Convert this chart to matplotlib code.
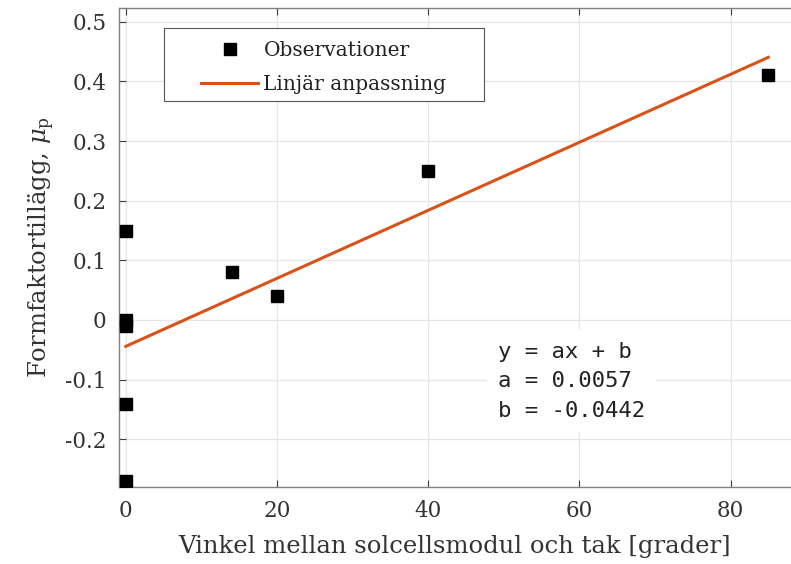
import numpy as np
import matplotlib.pyplot as plt
from matplotlib.patches import Rectangle

# Observations: angle between module and roof [deg] vs form factor addition
angle = [0, 0, 0, 0, 0, 14, 20, 40, 85]
form_factor = [0.15, 0.0, -0.01, -0.14, -0.27, 0.08, 0.04, 0.25, 0.41]

# Linear fit parameters
slope = 0.0057
intercept = -0.0442
fit_range = [0, 85]

x_ticks = [0, 20, 40, 60, 80]
y_ticks = [-0.2, -0.1, 0, 0.1, 0.2, 0.3, 0.4, 0.5]
y_tick_labels = ['-0.2', '-0.1', '0', '0.1', '0.2', '0.3', '0.4', '0.5']

plt.rcParams['font.family'] = ['DejaVu Serif']
plt.rcParams['mathtext.fontset'] = 'dejavuserif'

fig = plt.figure(figsize=(7.91, 5.64), dpi=100)
ax = fig.add_axes([0.1504, 0.1365, 0.8496, 0.8493])

ax.plot(angle, form_factor, 's', color='black', markersize=9,
        label='Observationer', zorder=3)
x_fit = np.array(fit_range)
ax.plot(x_fit, slope * x_fit + intercept, '-', color='#D95319', linewidth=2.2,
        label='Linjär anpassning', zorder=2)

ax.set_xlim(-0.9, 88)
ax.set_ylim(-0.28, 0.523)
ax.set_xticks(x_ticks)
ax.set_yticks(y_ticks)
ax.set_yticklabels(y_tick_labels)
ax.tick_params(direction='in', top=True, right=False, length=5, width=0.8,
               colors='#404040', labelsize=15.5, labelcolor='#333333', pad=9)
ax.grid(True, color='#e6e6e6', linewidth=0.9)
ax.set_axisbelow(True)
for side in ['left', 'bottom', 'top']:
    ax.spines[side].set_color('#808080')
    ax.spines[side].set_linewidth(1.0)
ax.spines['right'].set_visible(False)

ax.set_xlabel('Vinkel mellan solcellsmodul och tak [grader]', fontsize=17.5,
              color='#333333', labelpad=10)
ax.set_ylabel(r'Formfaktortillägg, $\mu_\mathrm{p}$', fontsize=17.5,
              color='#333333', labelpad=6)

# legend without frame, frame drawn with wider side margins (MATLAB style)
leg = ax.legend(loc='upper left', bbox_to_anchor=(0.122, 0.931), fontsize=14.5,
                frameon=False, borderpad=0, borderaxespad=0,
                handlelength=2.85, labelspacing=0.75, handletextpad=0.25)
for t in leg.get_texts():
    t.set_color('#222222')

fig.canvas.draw()
bb = leg.get_window_extent()
pad_l, pad_r, pad_top, pad_bot = 37, 38, 13, 7
x0, y0 = fig.transFigure.inverted().transform((bb.x0 - pad_l, bb.y0 - pad_bot))
x1, y1 = fig.transFigure.inverted().transform((bb.x1 + pad_r, bb.y1 + pad_top))
frame = Rectangle((x0, y0), x1 - x0, y1 - y0, transform=fig.transFigure,
                  facecolor='white', edgecolor='#555555', linewidth=0.8,
                  zorder=4)
fig.patches.append(frame)
leg.set_zorder(5)
leg.remove()
fig.legends.append(leg)
leg.set_figure(fig)

ax.text(0.564, 0.221, 'y = ax + b\na = 0.0057\nb = -0.0442',
        transform=ax.transAxes, family='DejaVu Sans Mono', fontsize=16,
        color='#222222', va='center', ha='left', linespacing=1.6,
        bbox=dict(facecolor='white', edgecolor='none', pad=8))

fig.savefig('out.png', dpi=100)
